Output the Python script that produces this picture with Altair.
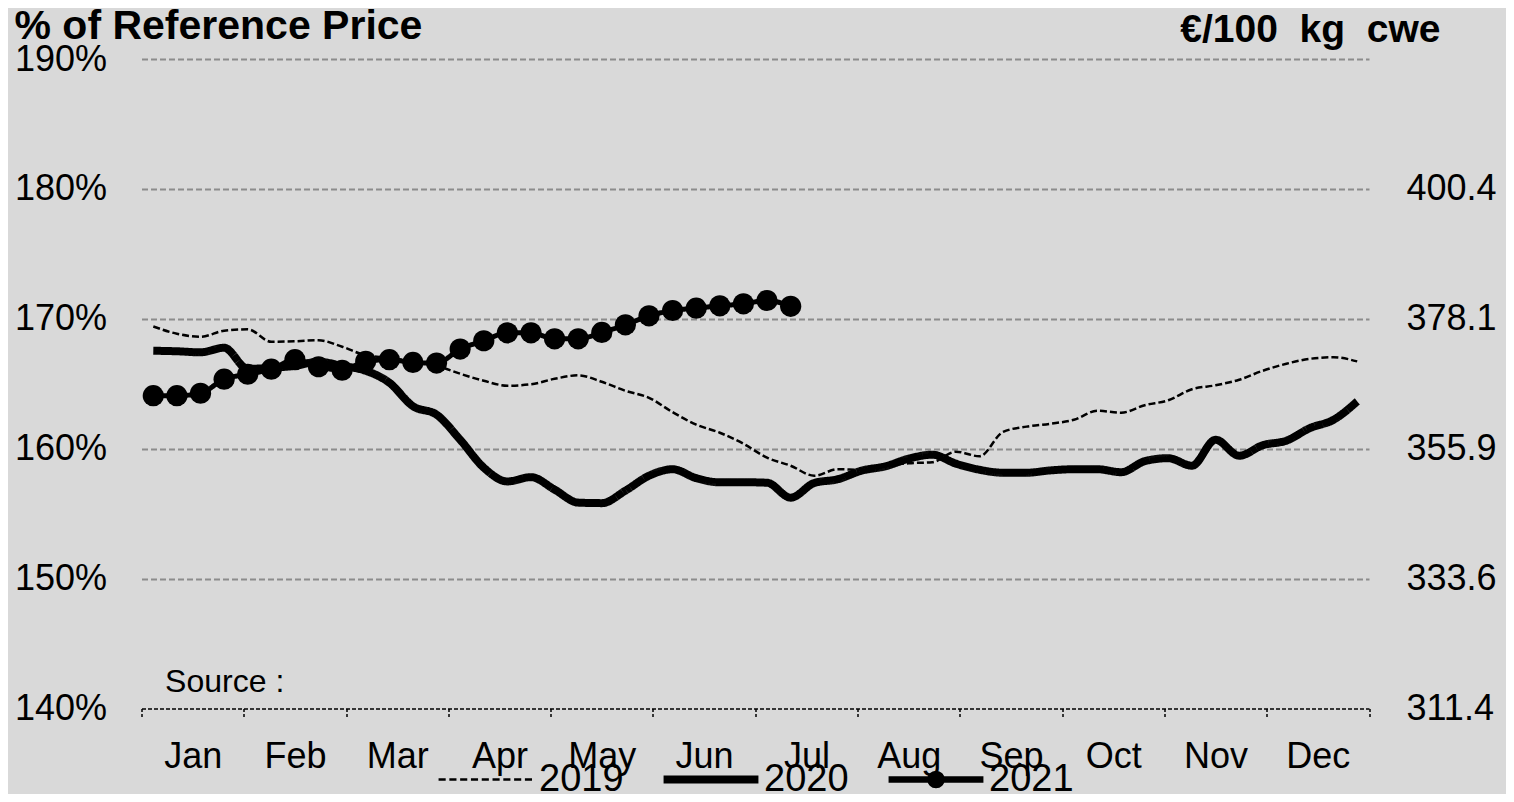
import altair as alt
import pandas as pd

months = ["Jan", "Feb", "Mar", "Apr", "May", "Jun", "Jul", "Aug", "Sep", "Oct", "Nov", "Dec"]
series_names = ["2019", "2020", "2021"]

pct2019 = [169.41, 168.85, 168.62, 169.08, 169.19, 168.23, 168.27, 168.35, 167.85, 167.19,
           167.0, 166.69, 166.38, 165.77, 165.23, 164.85, 164.96, 165.38, 165.65, 165.15,
           164.46, 163.92, 162.81, 161.85, 161.23, 160.38, 159.31, 158.69, 157.92, 158.42,
           158.38, 158.69, 158.88, 158.96, 159.77, 159.42, 161.3, 161.7, 161.92, 162.23,
           162.92, 162.77, 163.35, 163.73, 164.58, 164.88, 165.31, 166.0, 166.54, 166.92,
           167.04, 166.72]
pct2020 = [167.54, 167.5, 167.42, 167.77, 166.15, 166.23, 166.38, 166.69, 166.38, 166.0,
           165.08, 163.27, 162.62, 160.69, 158.54, 157.48, 157.81, 156.85, 155.85, 155.81,
           156.77, 157.92, 158.42, 157.73, 157.41, 157.42, 157.38, 156.23, 157.36, 157.65,
           158.31, 158.64, 159.23, 159.54, 158.85, 158.38, 158.15, 158.15, 158.33, 158.42,
           158.42, 158.19, 159.04, 159.27, 158.69, 160.69, 159.46, 160.27, 160.62, 161.59,
           162.23, 163.64]
pct2021 = [164.08, 164.08, 164.27, 165.35, 165.73, 166.12, 166.85, 166.31, 166.04, 166.73,
           166.85, 166.64, 166.59, 167.67, 168.31, 168.92, 168.92, 168.46, 168.46, 168.95,
           169.54, 170.23, 170.64, 170.82, 171.0, 171.15, 171.41, 170.96]

left_ticks = [140, 150, 160, 170, 180, 190]
right_ticks = [140, 150, 160, 170, 180]
right_labels = ["311.4", "333.6", "355.9", "378.1", "400.4"]
left_title = "% of Reference Price"
right_title = "€/100\u00a0 kg\u00a0 cwe"
source_text = ["Source :"]
source_week = [1.0]
source_pct = [141.3]

N_WEEKS = 52
rows = []
for name, vals in zip(series_names, [pct2019, pct2020, pct2021]):
    for i, v in enumerate(vals):
        rows.append({"series": name, "week": i + 0.5, "pct": v})
df = pd.DataFrame(rows)
df_src = pd.DataFrame({"week": source_week, "pct": source_pct, "text": source_text})

FONT = "Liberation Sans"
W = 1227.5
H = 649.5

month_edges = [k * N_WEEKS / 12 for k in range(13)]
months_js = "[" + ",".join(f"'{m}'" for m in months) + "]"
rl_js = "[" + ",".join(f"'{m}'" for m in right_labels) + "]"
rt_js = "[" + ",".join(str(t) for t in right_ticks) + "]"

x_scale = alt.Scale(domain=[0, N_WEEKS], nice=False, zero=False)
x_axis = alt.Axis(
    values=month_edges,
    labelExpr=f"datum.value < {N_WEEKS - 1} ? {months_js}[round(datum.value*12/{N_WEEKS})] : ''",
    labelOffset=W / 24,
    labelFlush=False,
    labelOverlap=False,
    labelBound=False,
    labelFont=FONT,
    labelFontSize=36,
    labelColor="black",
    labelBaseline="alphabetic",
    labelPadding=50,
    tickSize=9,
    tickColor="black",
    tickDash=[3, 2],
    tickWidth=1.5,
    domainColor="black",
    domainDash=[4, 2],
    domainWidth=1.5,
    grid=False,
    title=None,
    zindex=1,
)
X = alt.X("week:Q", scale=x_scale, axis=x_axis)

y_scale = alt.Scale(domain=[140, 190], nice=False, zero=False)

left_axis = alt.Axis(
    orient="left",
    values=left_ticks,
    labelExpr="datum.value + '%'",
    labelFont=FONT,
    labelFontSize=36,
    labelColor="black",
    labelPadding=35,
    ticks=False,
    domain=False,
    grid=True,
    gridColor={"condition": {"test": "datum.value === 140", "value": "transparent"}, "value": "#8c8c8c"},
    gridDash=[6, 3],
    gridWidth=2,
    title=left_title,
    titleFont=FONT,
    titleFontSize=41,
    titleFontWeight="bold",
    titleColor="black",
    titleAngle=0,
    titleAlign="left",
    titleBaseline="alphabetic",
    titleX=-127.5,
    titleY=-21,
)

right_axis = alt.Axis(
    orient="right",
    values=right_ticks,
    labelExpr=f"{rl_js}[indexof({rt_js}, datum.value)]",
    labelFont=FONT,
    labelFontSize=36,
    labelColor="black",
    labelAlign="left",
    labelPadding=37,
    ticks=False,
    domain=False,
    grid=False,
    title=right_title,
    titleFont=FONT,
    titleFontSize=39,
    titleFontWeight="bold",
    titleColor="black",
    titleAngle=0,
    titleAlign="right",
    titleBaseline="alphabetic",
    titleX=71,
    titleY=-18,
)

# legend symbol shapes (unit box -1..1); thickness built from parallel strokes
def hline(offsets):
    return "".join(f"M-1,{o}L1,{o}" for o in offsets)

dash_path = "".join(f"M{-1 + k * 0.2275:.4f},0h0.15" for k in range(9))
thick_path = hline([-0.06, -0.03, 0, 0.03, 0.06])
disc_path = "".join(f"M{r},0A{r},{r},0,1,1,{-r},0A{r},{r},0,1,1,{r},0" for r in (0.16, 0.12, 0.08, 0.04, 0.01))
marker_path = hline([-0.04, 0, 0.04]) + disc_path
legend_shapes = [dash_path, thick_path, marker_path]

legend = alt.Legend(
    title=None,
    orient="none",
    legendX=295.5,
    legendY=671.5,
    direction="horizontal",
    symbolSize=9000,
    symbolStrokeColor="black",
    symbolStrokeWidth=2.5,
    symbolOpacity=1,
    labelFont=FONT,
    labelFontSize=38,
    labelColor="black",
    labelOffset=4,
    labelBaseline="middle",
    columnPadding=34,
    padding=0,
)

widths = {"2019": 2.5, "2020": 8, "2021": 5}
dashes = {"2019": [7, 3], "2020": [1, 0], "2021": [1, 0]}

line_layers = []
for k, name in enumerate(series_names):
    line_layers.append(
        alt.Chart(df).transform_filter(alt.datum.series == name).mark_line(
            interpolate="monotone", color="black",
            strokeWidth=widths[name], strokeDash=dashes[name],
        ).encode(
            x=X,
            y=alt.Y("pct:Q", scale=y_scale, axis=left_axis if k == 0 else None),
            order=alt.Order("week:Q"),
        )
    )

points = alt.Chart(df).transform_filter(alt.datum.series == "2021").mark_circle(
    size=450, color="black", opacity=1
).encode(
    x=X,
    y=alt.Y("pct:Q", scale=y_scale, axis=right_axis),
)

source = alt.Chart(df_src).mark_text(
    align="left", baseline="alphabetic", font=FONT, fontSize=32, color="black"
).encode(
    x=X,
    y=alt.Y("pct:Q", scale=y_scale, axis=None),
    text="text:N",
)

legend_layer = alt.Chart(df).transform_filter("false").mark_point(
    color="black", filled=False, size=9000, strokeWidth=2.5
).encode(
    x=X,
    y=alt.Y("pct:Q", scale=y_scale, axis=None),
    shape=alt.Shape("series:N", scale=alt.Scale(domain=series_names, range=legend_shapes), legend=legend),
)

chart = alt.layer(*line_layers, points, source, legend_layer).resolve_scale(
    y="independent"
).properties(
    width=W,
    height=H,
    autosize=alt.AutoSizeParams(type="none"),
    padding={"left": 133.5, "top": 51, "right": 137, "bottom": 85.5},
    background="#d9d9d9",
).configure_view(stroke=None)

chart.save("out.html", embed_options={"renderer": "svg", "actions": False})
